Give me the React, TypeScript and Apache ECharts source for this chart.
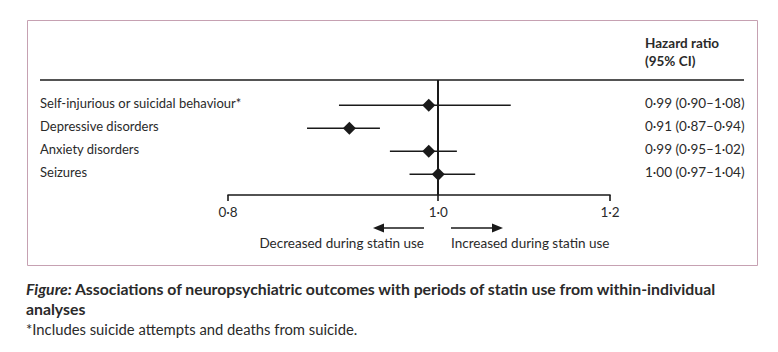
import React, { useEffect, useRef } from 'react';
import * as echarts from 'echarts';

const outcomes = [
  'Self-injurious or suicidal behaviour*',
  'Depressive disorders',
  'Anxiety disorders',
  'Seizures',
];
const hazardRatio = [0.99, 0.91, 0.99, 1.0];
const ciLow = [0.9, 0.87, 0.95, 0.97];
const ciHigh = [1.08, 0.94, 1.02, 1.04];
const tickValues = [0.8, 1.0, 1.2];

const FONT = 'Lato';
const INK = '#1a1a1a';
const TEXT = '#2a2a2a';

const dot = (v: number, d: number) => v.toFixed(d).replace('.', '\u00b7');

export default function App() {
  const ref = useRef<HTMLDivElement>(null);
  useEffect(() => {
    if (!ref.current) return;
    const chart = echarts.init(ref.current, undefined, { renderer: 'svg' });
    const data = outcomes.map((_, i) => [hazardRatio[i], ciLow[i], ciHigh[i], i]);
    chart.setOption({
      animation: false,
      backgroundColor: '#ffffff',
      grid: { left: 228, right: 168, top: 80, bottom: 157, containLabel: false },
      xAxis: {
        type: 'log',
        logBase: 10,
        min: 0.8,
        max: 1.2,
        axisLine: { show: true, onZero: false, lineStyle: { color: INK, width: 1.6 } },
        axisTick: { show: true, customValues: tickValues, length: 6, lineStyle: { color: INK, width: 1.6 } },
        axisLabel: {
          customValues: tickValues,
          formatter: (v: number) => dot(v, 1),
          margin: 10,
          fontSize: 13.5,
          color: TEXT,
          fontFamily: FONT,
        },
        splitLine: { show: false },
        minorTick: { show: false },
        minorSplitLine: { show: false },
      },
      yAxis: { type: 'value', inverse: true, min: -1.1, max: 3.9, show: false },
      series: [
        {
          type: 'line',
          data: [],
          silent: true,
          markLine: {
            silent: true,
            symbol: 'none',
            label: { show: false },
            lineStyle: { color: INK, width: 2, type: 'solid' },
            data: [{ xAxis: 1 }],
          },
        },
        {
          type: 'custom',
          data,
          encode: { x: [0, 1, 2], y: 3 },
          renderItem: (params: any, api: any) => {
            const idx = params.dataIndex;
            const est = api.value(0);
            const lo = api.value(1);
            const hi = api.value(2);
            const row = api.value(3);
            const pLo = api.coord([lo, row]);
            const pHi = api.coord([hi, row]);
            const pE = api.coord([est, row]);
            const r = 6.5;
            return {
              type: 'group',
              children: [
                {
                  type: 'line',
                  shape: { x1: pLo[0], y1: pLo[1], x2: pHi[0], y2: pHi[1] },
                  style: { stroke: INK, lineWidth: 1.6 },
                },
                {
                  type: 'polygon',
                  shape: {
                    points: [
                      [pE[0], pE[1] - r],
                      [pE[0] + r, pE[1]],
                      [pE[0], pE[1] + r],
                      [pE[0] - r, pE[1]],
                    ],
                  },
                  style: { fill: INK },
                },
                {
                  type: 'text',
                  x: 40,
                  y: pE[1] - 2,
                  style: {
                    text: outcomes[idx],
                    fontFamily: FONT,
                    fontSize: 13,
                    fill: TEXT,
                    verticalAlign: 'middle',
                    align: 'left',
                  },
                },
                {
                  type: 'text',
                  x: 645,
                  y: pE[1] - 2,
                  style: {
                    text: `${dot(hazardRatio[idx], 2)} (${dot(ciLow[idx], 2)}\u2013${dot(ciHigh[idx], 2)})`,
                    fontFamily: FONT,
                    fontSize: 13.5,
                    fill: TEXT,
                    verticalAlign: 'middle',
                    align: 'left',
                  },
                },
              ],
            };
          },
        },
      ],
      graphic: [
        {
          type: 'rect',
          shape: { x: 27.5, y: 20.5, width: 730, height: 245 },
          style: { fill: 'none', stroke: '#c6a1b2', lineWidth: 1 },
          silent: true,
        },
        {
          type: 'text',
          x: 645,
          y: 43,
          style: { text: 'Hazard ratio', fontFamily: FONT, fontSize: 13.5, fontWeight: 'bold', fill: TEXT, verticalAlign: 'middle' },
        },
        {
          type: 'text',
          x: 645,
          y: 61,
          style: { text: '(95% CI)', fontFamily: FONT, fontSize: 13.5, fontWeight: 'bold', fill: TEXT, verticalAlign: 'middle' },
        },
        {
          type: 'line',
          shape: { x1: 40, y1: 80, x2: 744, y2: 80 },
          style: { stroke: INK, lineWidth: 1.6 },
        },
        {
          type: 'line',
          shape: { x1: 424, y1: 228, x2: 380, y2: 228 },
          style: { stroke: INK, lineWidth: 1.6 },
        },
        {
          type: 'polygon',
          shape: { points: [[373, 228], [384, 223.5], [384, 232.5]] },
          style: { fill: INK },
        },
        {
          type: 'line',
          shape: { x1: 451, y1: 228, x2: 496, y2: 228 },
          style: { stroke: INK, lineWidth: 1.6 },
        },
        {
          type: 'polygon',
          shape: { points: [[503, 228], [492, 223.5], [492, 232.5]] },
          style: { fill: INK },
        },
        {
          type: 'text',
          x: 424,
          y: 243,
          style: { text: 'Decreased during statin use', fontFamily: FONT, fontSize: 13.5, fill: TEXT, align: 'right', verticalAlign: 'middle' },
        },
        {
          type: 'text',
          x: 451,
          y: 243,
          style: { text: 'Increased during statin use', fontFamily: FONT, fontSize: 13.5, fill: TEXT, align: 'left', verticalAlign: 'middle' },
        },
        {
          type: 'text',
          x: 26,
          y: 288,
          style: {
            text: '{i|Figure:} {b|Associations of neuropsychiatric outcomes with periods of statin use from within-individual}',
            fontFamily: FONT,
            verticalAlign: 'middle',
            rich: {
              i: { fontFamily: FONT, fontSize: 15.8, fontWeight: 'bold', fontStyle: 'italic', fill: TEXT },
              b: { fontFamily: FONT, fontSize: 15.8, fontWeight: 'bold', fill: TEXT },
            },
          },
        },
        {
          type: 'text',
          x: 26,
          y: 308,
          style: { text: 'analyses', fontFamily: FONT, fontSize: 15.8, fontWeight: 'bold', fill: TEXT, verticalAlign: 'middle' },
        },
        {
          type: 'text',
          x: 26,
          y: 329,
          style: { text: '*Includes suicide attempts and deaths from suicide.', fontFamily: FONT, fontSize: 14.8, fill: TEXT, verticalAlign: 'middle' },
        },
      ],
    });
    return () => chart.dispose();
  }, []);
  return (
    <div
      ref={ref}
      style={{ position: 'fixed', left: 0, top: 0, width: 778, height: 352, background: '#fff' }}
    />
  );
}
